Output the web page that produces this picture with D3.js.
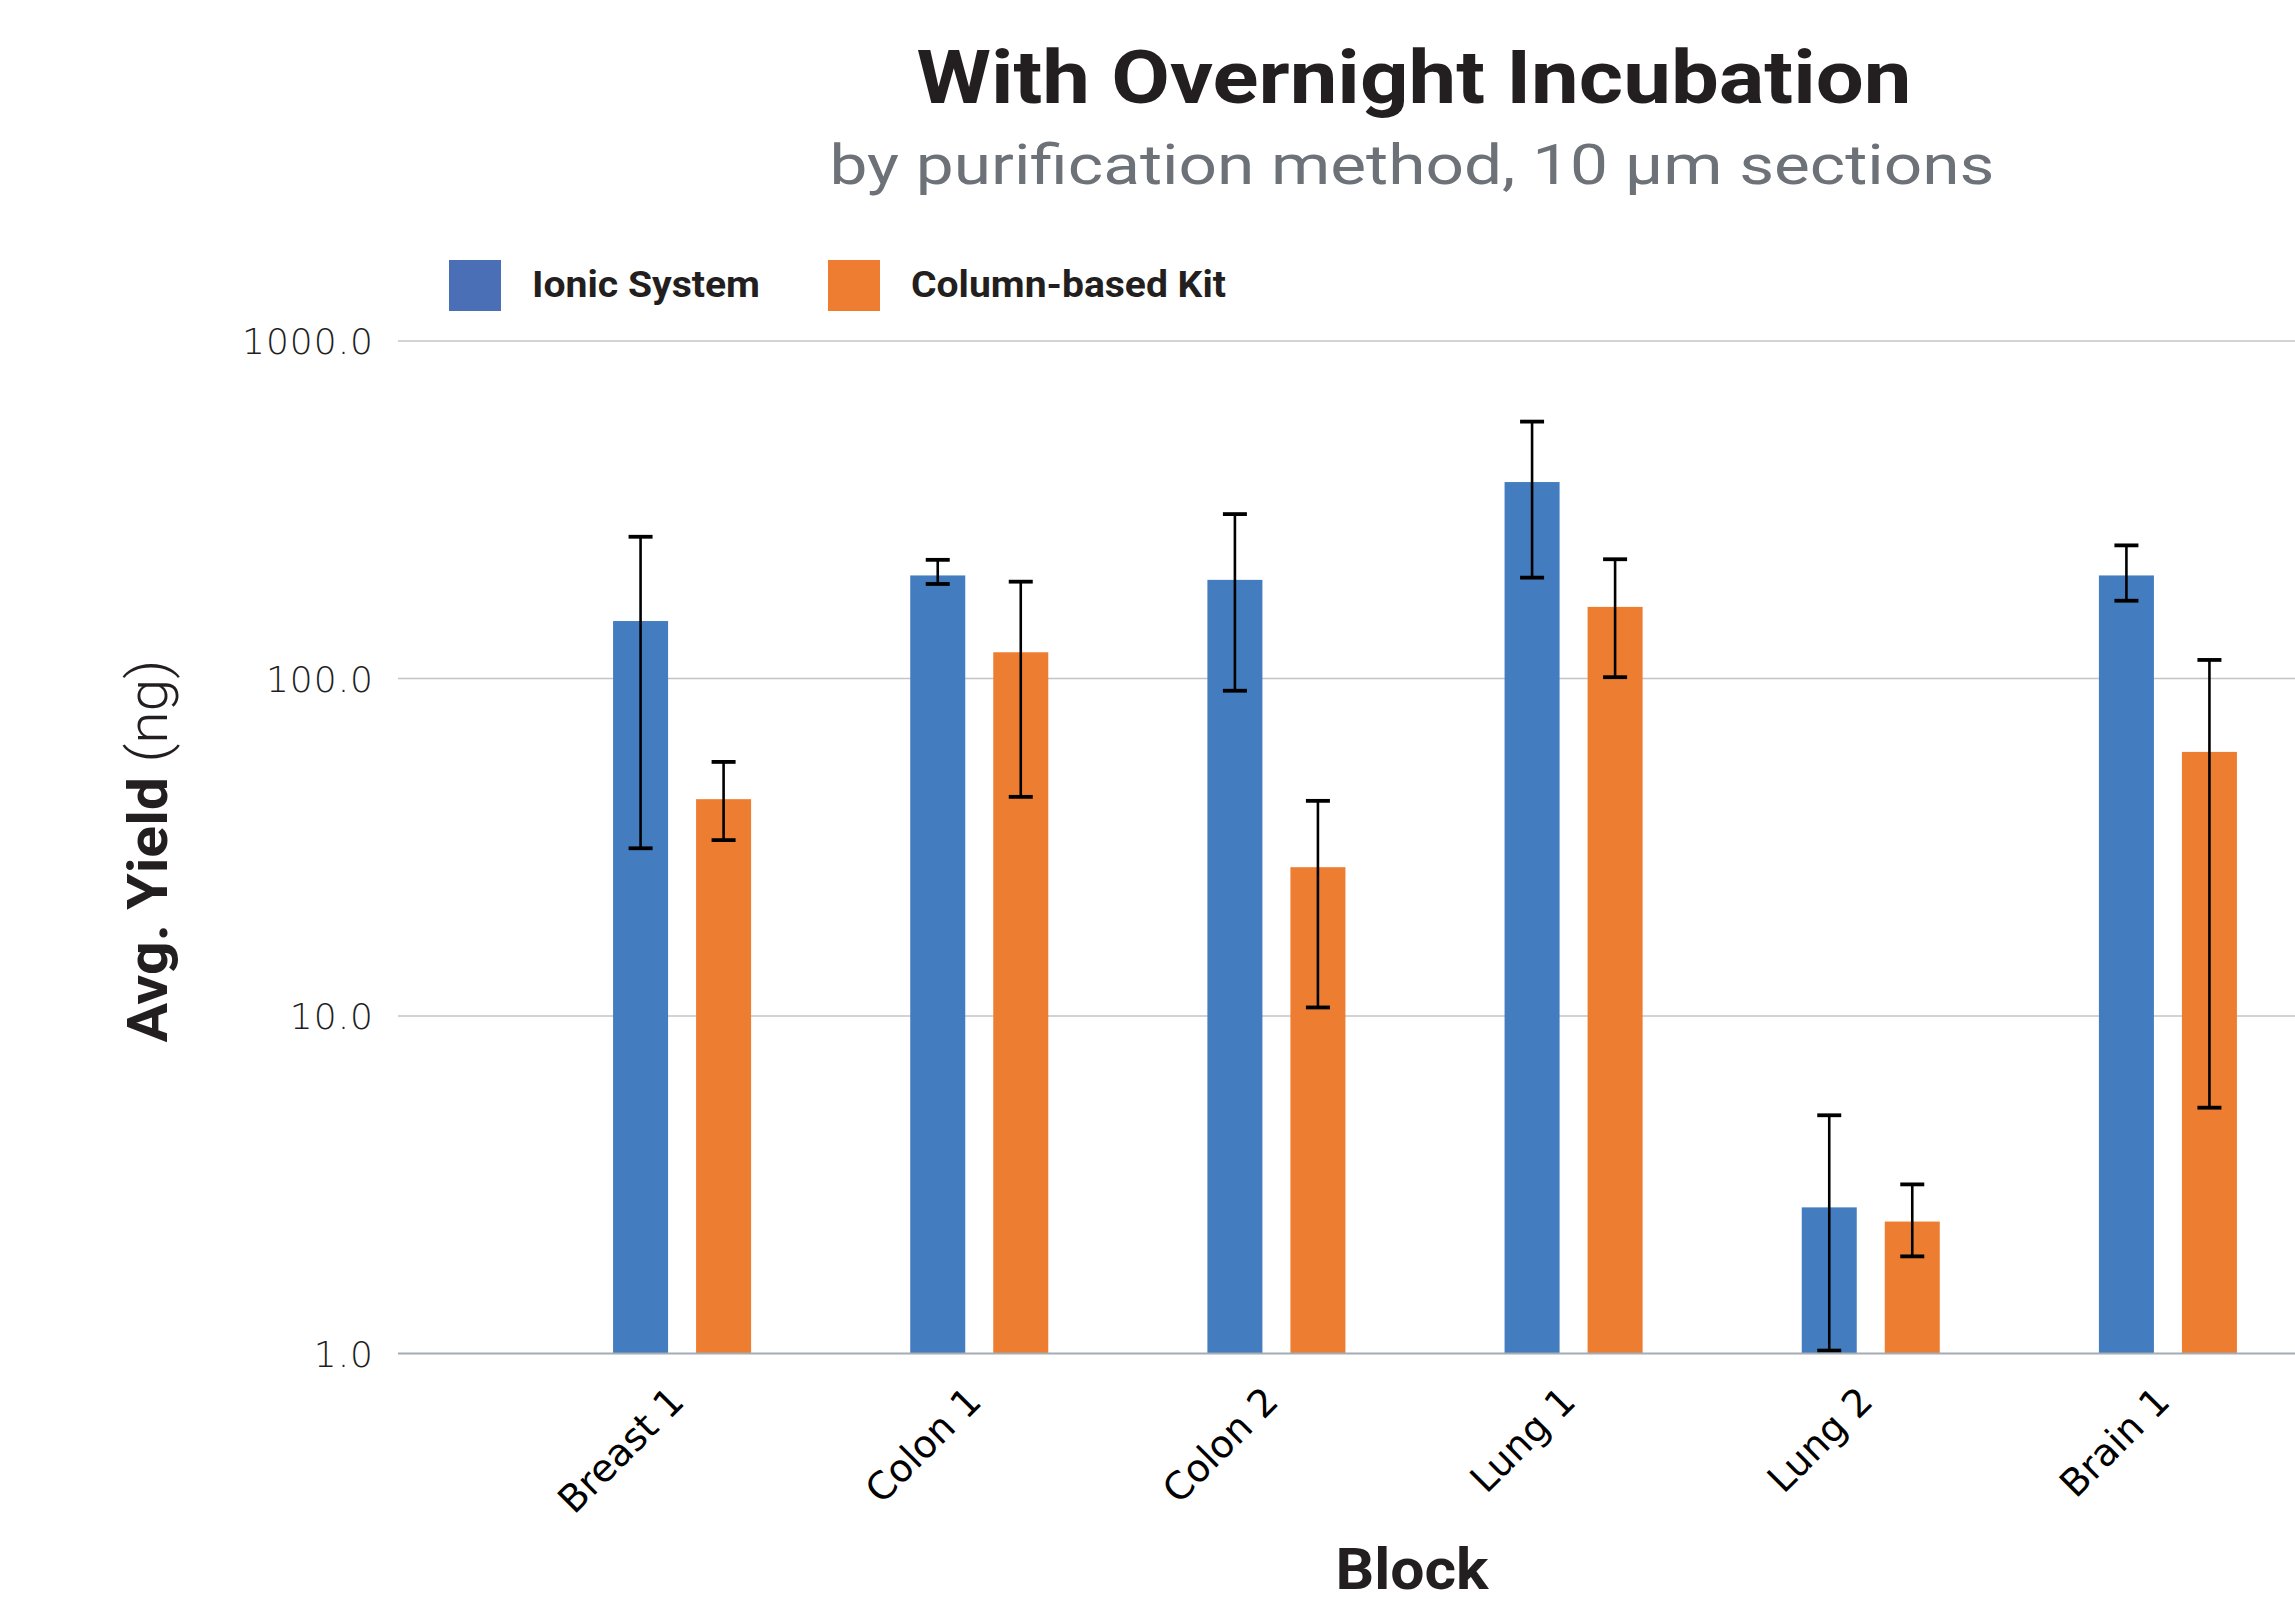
<!DOCTYPE html>
<html>
<head>
<meta charset="utf-8">
<script src="https://cdn.jsdelivr.net/npm/d3@7"></script>
<style>
  html, body { margin: 0; padding: 0; background: #ffffff; }
  svg { display: block; }
</style>
</head>
<body>
<svg id="chart" width="2295" height="1599"></svg>
<script>
// Tissue blocks on the x axis
const categories = ["Breast 1", "Colon 1", "Colon 2", "Lung 1", "Lung 2", "Brain 1"];
const seriesNames = ["Ionic System", "Column-based Kit"];

// Average yield (ng) with lower / upper error bounds
const ionicMean = [148, 202, 196, 382, 2.71, 202];
const ionicLow  = [31.4, 190.6, 92.0, 199, 1.02, 170];
const ionicHigh = [263, 224.7, 307, 577, 5.08, 248];

const columnMean = [43.9, 119.6, 27.6, 163, 2.46, 60.6];
const columnLow  = [33.2, 44.6, 10.6, 100.9, 1.94, 5.35];
const columnHigh = [56.6, 193.6, 43.4, 225.6, 3.17, 113.5];

const yTicks = [1, 10, 100, 1000];

const seriesColors = ["#437dbf", "#ed7d31"];
const legendColors = ["#4a6fb7", "#ee7d31"];

const rows = categories.map((c, i) => ({
  category: c,
  values: [
    { series: seriesNames[0], mean: ionicMean[i], low: ionicLow[i], high: ionicHigh[i] },
    { series: seriesNames[1], mean: columnMean[i], low: columnLow[i], high: columnHigh[i] }
  ]
}));

const svg = d3.select("#chart");

const plot = { left: 398, right: 2452, top: 341, bottom: 1353.5 };

const x0 = d3.scaleBand()
  .domain(categories)
  .range([plot.left, plot.right])
  .paddingInner(0.5355)
  .paddingOuter(0.7237);

const x1 = d3.scaleBand()
  .domain(seriesNames)
  .range([0, x0.bandwidth()])
  .paddingInner(0.3373)
  .paddingOuter(0);

const color = d3.scaleOrdinal().domain(seriesNames).range(seriesColors);

const y = d3.scaleLog()
  .domain([1, 1000])
  .range([plot.bottom, plot.top]);

// Stretch or squeeze a text run to a set width
function setLength(sel, target) {
  sel.attr("textLength", target).attr("lengthAdjust", "spacingAndGlyphs");
}

// Horizontal gridlines
svg.append("g")
  .selectAll("line")
  .data(yTicks.filter(d => d > 1))
  .join("line")
  .attr("x1", plot.left)
  .attr("x2", plot.right)
  .attr("y1", d => y(d))
  .attr("y2", d => y(d))
  .attr("stroke", "#c4c4c4")
  .attr("stroke-width", 1.6);

// Y axis labels
const yAxis = svg.append("g")
  .attr("transform", `translate(${plot.left},0)`)
  .call(d3.axisLeft(y).tickValues(yTicks).tickFormat(d3.format(".1f")).tickSize(0).tickPadding(24));
yAxis.select(".domain").remove();
yAxis.selectAll("text")
  .attr("font-family", "'DejaVu Sans', sans-serif")
  .attr("font-weight", 300)
  .attr("font-size", 36)
  .attr("letter-spacing", 1)
  .attr("fill", "#1e1e1e")
  .attr("dy", "0.36em");

// Bars
const groups = svg.append("g")
  .selectAll("g")
  .data(rows)
  .join("g")
  .attr("transform", d => `translate(${x0(d.category)},0)`);

groups.selectAll("rect")
  .data(d => d.values)
  .join("rect")
  .attr("x", d => x1(d.series))
  .attr("width", x1.bandwidth())
  .attr("y", d => y(d.mean))
  .attr("height", d => y(1) - y(d.mean))
  .attr("fill", d => color(d.series));

// Baseline at 1.0
svg.append("line")
  .attr("x1", plot.left)
  .attr("x2", plot.right)
  .attr("y1", y(1))
  .attr("y2", y(1))
  .attr("stroke", "#a4acb4")
  .attr("stroke-width", 2);

// Error bars
const capHalf = 12;
const err = groups.selectAll("g.err")
  .data(d => d.values)
  .join("g")
  .attr("class", "err")
  .attr("transform", d => `translate(${x1(d.series) + x1.bandwidth() / 2},0)`);

err.append("line")
  .attr("x1", 0).attr("x2", 0)
  .attr("y1", d => y(d.low))
  .attr("y2", d => y(d.high))
  .attr("stroke", "#000")
  .attr("stroke-width", 2.6);

err.append("line")
  .attr("x1", -capHalf).attr("x2", capHalf)
  .attr("y1", d => y(d.high)).attr("y2", d => y(d.high))
  .attr("stroke", "#000")
  .attr("stroke-width", 3.8);

err.append("line")
  .attr("x1", -capHalf).attr("x2", capHalf)
  .attr("y1", d => y(d.low)).attr("y2", d => y(d.low))
  .attr("stroke", "#000")
  .attr("stroke-width", 3.8);

// X axis category labels
const xAxis = svg.append("g")
  .attr("transform", `translate(0,${plot.bottom})`)
  .call(d3.axisBottom(x0).tickSize(0));
xAxis.select(".domain").remove();
xAxis.selectAll("text")
  .attr("x", 0)
  .attr("y", 0)
  .attr("dy", 0)
  .attr("transform", "translate(4,50) rotate(-45)")
  .attr("text-anchor", "end")
  .attr("font-family", "'DejaVu Sans', sans-serif")
  .attr("font-size", 38)
  .attr("fill", "#000");

// Title and subtitle
const title = svg.append("text")
  .attr("x", 1414)
  .attr("y", 103)
  .attr("text-anchor", "middle")
  .attr("font-family", "Roboto, sans-serif")
  .attr("font-weight", 700)
  .attr("font-size", 74)
  .attr("fill", "#231f20")
  .text("With Overnight Incubation");
setLength(title, 995);

const subtitle = svg.append("text")
  .attr("x", 1412)
  .attr("y", 184)
  .attr("text-anchor", "middle")
  .attr("font-family", "Roboto, sans-serif")
  .attr("font-weight", 400)
  .attr("font-size", 56)
  .attr("fill", "#6d7278")
  .text("by purification method, 10 µm sections");
setLength(subtitle, 1165);

// Legend
const legendX = [449, 828];
const legendTextWidth = [228, 315];
const legend = svg.append("g")
  .selectAll("g")
  .data(seriesNames)
  .join("g")
  .attr("transform", (d, i) => `translate(${legendX[i]},260)`);
legend.append("rect")
  .attr("width", 52)
  .attr("height", 51)
  .attr("fill", (d, i) => legendColors[i]);
legend.append("text")
  .attr("x", 83)
  .attr("y", 37)
  .attr("font-family", "Roboto, sans-serif")
  .attr("font-weight", 700)
  .attr("font-size", 36)
  .attr("fill", "#231f20")
  .attr("textLength", (d, i) => legendTextWidth[i])
  .attr("lengthAdjust", "spacingAndGlyphs")
  .text(d => d);

// Axis titles
const yTitle = svg.append("text")
  .attr("transform", "translate(167,851) rotate(-90)")
  .attr("text-anchor", "middle")
  .attr("font-family", "Roboto, sans-serif")
  .attr("font-size", 55)
  .attr("fill", "#231f20");
yTitle.append("tspan").attr("font-weight", 700).text("Avg. Yield ");
yTitle.append("tspan").attr("font-weight", 300).text("(ng)");
setLength(yTitle, 383);

const xTitle = svg.append("text")
  .attr("x", 1412)
  .attr("y", 1589)
  .attr("text-anchor", "middle")
  .attr("font-family", "Roboto, sans-serif")
  .attr("font-weight", 700)
  .attr("font-size", 58)
  .attr("fill", "#231f20")
  .text("Block");
setLength(xTitle, 153);
</script>
</body>
</html>
